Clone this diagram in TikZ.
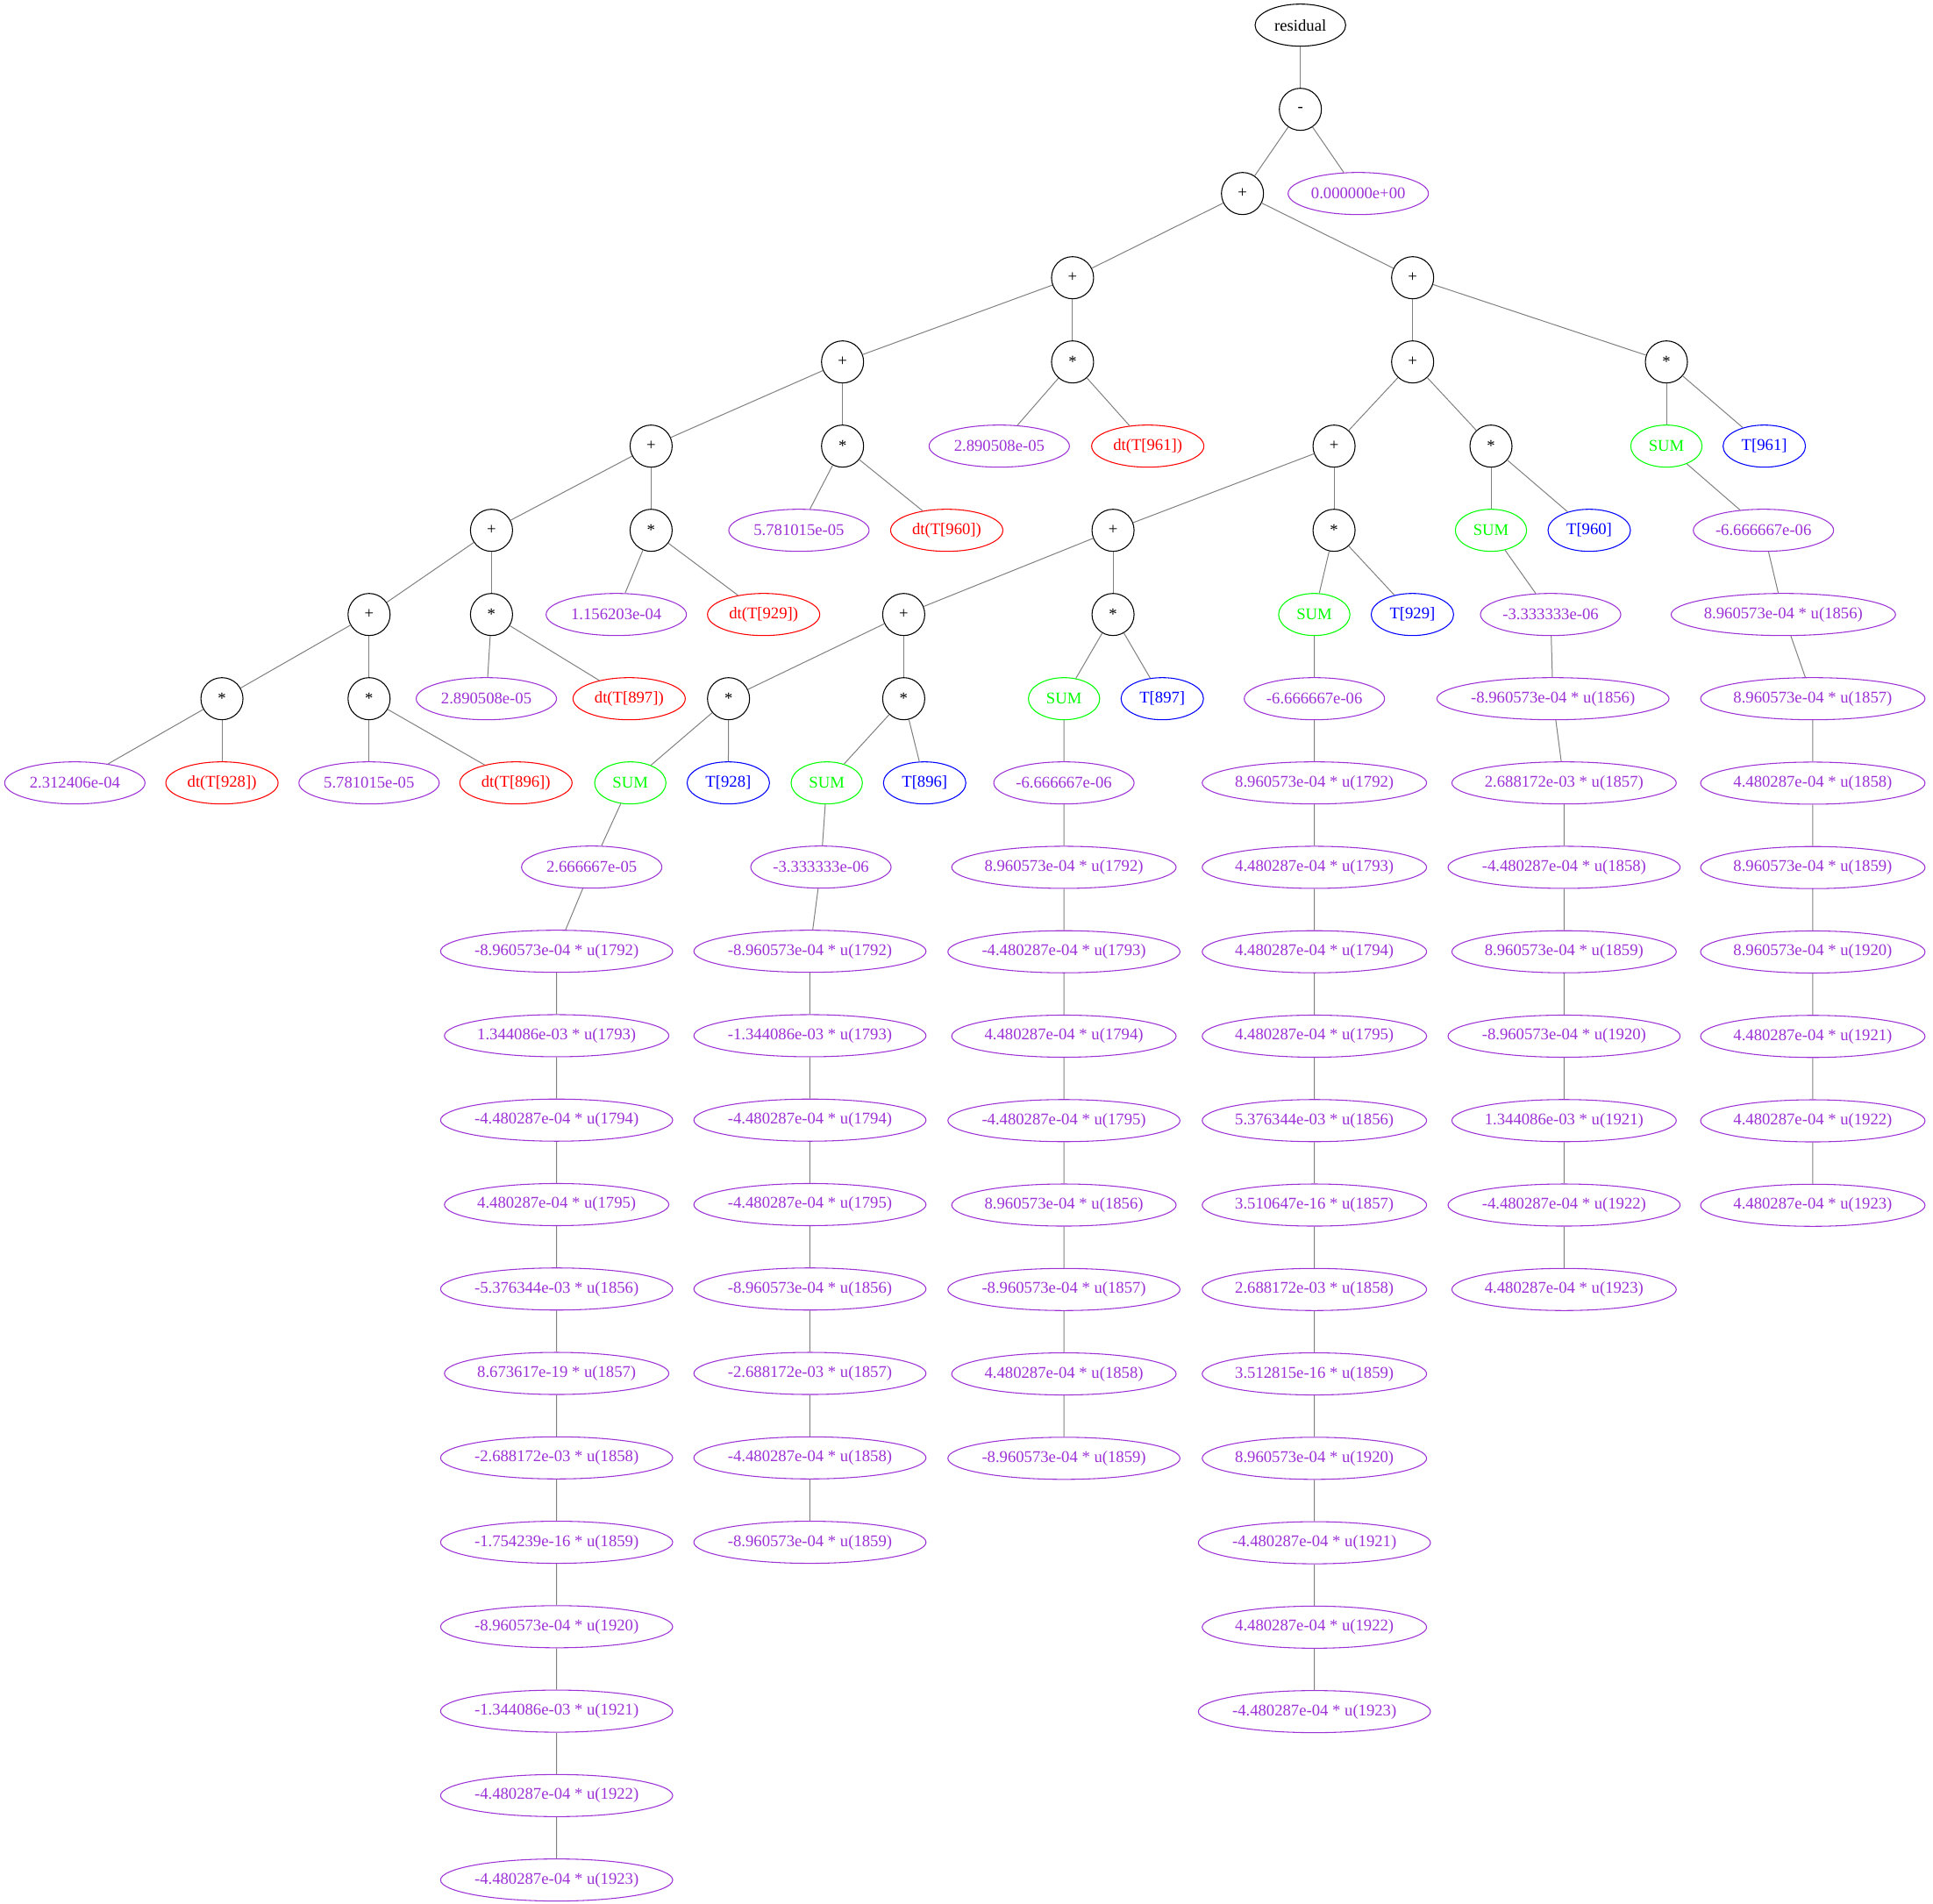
\documentclass[tikz,border=0pt]{standalone}
\usepackage{fontspec}
\setmainfont{Liberation Serif}
\usetikzlibrary{shapes.geometric,positioning}

\definecolor{cstpurple}{HTML}{9C32D6}
\definecolor{dtred}{HTML}{FF0000}
\definecolor{varblue}{HTML}{0000FF}
\definecolor{sumgreen}{HTML}{00FF00}

\begin{document}
\begin{tikzpicture}[x=1pt, y=1pt,
	node distance=35.4pt,
	every node/.style={font=\fontsize{14}{16}\selectfont, line width=0.8pt, minimum height=36pt},
	op/.style={circle, draw=black, minimum size=36pt, inner sep=0pt},
	rootv/.style={ellipse, draw=black, minimum width=77.5pt},
	cst/.style={ellipse, draw=cstpurple, text=cstpurple, minimum width=120pt, inner xsep=0pt},
	dtv/.style={ellipse, draw=dtred, text=dtred, minimum width=96pt},
	var/.style={ellipse, draw=varblue, text=varblue, minimum width=70.5pt},
	sumv/.style={ellipse, draw=sumgreen, text=sumgreen, minimum width=61pt},
	conn/.style={draw=gray, line width=0.75pt}
]
	\useasboundingbox (0,0) rectangle (1653,-1628);

	% Operators and leaves of the expression tree
	\node[rootv] (res) at (1112,-21.5) {residual};
	\node[op] (minus) at (1112,-93.5) {-};
	\node[op] (plA) at (1062.5,-165.5) {+};
	\node[cst] (zero) at (1161.5,-165.5) {0.000000e+00};

	\node[op] (plB) at (917.2,-237.5) {+};
	\node[op] (plC) at (1208,-237.5) {+};

	\node[op] (plD) at (720.5,-309.5) {+};
	\node[op] (mulA) at (917.2,-309.5) {*};
	\node[op] (plE) at (1208,-309.5) {+};
	\node[op] (mulB) at (1425,-309.5) {*};

	\node[op] (plF) at (556.8,-381.5) {+};
	\node[op] (mulC) at (720.5,-381.5) {*};
	\node[cst] (kA) at (854.5,-381.5) {2.890508e-05};
	\node[dtv] (dA) at (981.5,-381.5) {dt(T[961])};
	\node[op] (plG) at (1140.8,-381.5) {+};
	\node[op] (mulD) at (1275,-381.5) {*};
	\node[sumv] (sumB) at (1425,-381.5) {SUM};
	\node[var] (varB) at (1508.7,-381.5) {T[961]};

	\node[op] (plH) at (420.3,-453.5) {+};
	\node[op] (mulE) at (556.8,-453.5) {*};
	\node[cst] (kC) at (683.2,-453.5) {5.781015e-05};
	\node[dtv] (dC) at (809.6,-453.5) {dt(T[960])};
	\node[op] (plI) at (951.8,-453.5) {+};
	\node[op] (mulF) at (1140.8,-453.5) {*};
	\node[sumv] (sumD) at (1275,-453.5) {SUM};
	\node[var] (varD) at (1359,-453.5) {T[960]};
	\node[cst] (qB0) at (1508,-453.5) {-6.666667e-06};

	\node[op] (plJ) at (315.6,-525.5) {+};
	\node[op] (mulG) at (420.3,-525.5) {*};
	\node[cst] (kE) at (527,-525.5) {1.156203e-04};
	\node[dtv] (dE) at (653,-525.5) {dt(T[929])};
	\node[op] (plK) at (772.8,-525.5) {+};
	\node[op] (mulH) at (951.8,-525.5) {*};
	\node[sumv] (sumF) at (1123.9,-525.5) {SUM};
	\node[var] (varF) at (1207.8,-525.5) {T[929]};
	\node[cst] (qD0) at (1326,-525.5) {-3.333333e-06};
	\node[cst] (qB1) at (1525,-525.5) {8.960573e-04 * u(1856)};

	\node[op] (mulI) at (189.8,-597.5) {*};
	\node[op] (mulJ) at (315.6,-597.5) {*};
	\node[cst] (kG) at (415.9,-597.5) {2.890508e-05};
	\node[dtv] (dG) at (538,-597.5) {dt(T[897])};
	\node[op] (mulK) at (623,-597.5) {*};
	\node[op] (mulL) at (772.8,-597.5) {*};
	\node[sumv] (sumH) at (909.9,-597.5) {SUM};
	\node[var] (varH) at (993.9,-597.5) {T[897]};
	\node[cst] (qF0) at (1124,-597.5) {-6.666667e-06};
	\node[cst] (qD1) at (1328,-597.5) {-8.960573e-04 * u(1856)};
	\node[cst] (qB2) at (1550.2,-597.5) {8.960573e-04 * u(1857)};

	\node[cst] (kI) at (64,-669.5) {2.312406e-04};
	\node[dtv] (dI) at (189.8,-669.5) {dt(T[928])};
	\node[cst] (kJ) at (315.6,-669.5) {5.781015e-05};
	\node[dtv] (dJ) at (441.2,-669.5) {dt(T[896])};
	\node[sumv] (sumK) at (539,-669.5) {SUM};
	\node[var] (varK) at (622.8,-669.5) {T[928]};
	\node[sumv] (sumL) at (707,-669.5) {SUM};
	\node[var] (varL) at (790.7,-669.5) {T[896]};
	\node[cst] (qH0) at (909.8,-669.5) {-6.666667e-06};
	\node[cst] (qF1) at (1124,-669.5) {8.960573e-04 * u(1792)};
	\node[cst] (qD2) at (1337.5,-669.5) {2.688172e-03 * u(1857)};

	\node[cst] (qK0) at (506,-741.5) {2.666667e-05};
	\node[cst] (qL0) at (702,-741.5) {-3.333333e-06};

	% Chains of weighted terms
	\node[cst] (qK1) at (476,-813.5) {-8.960573e-04 * u(1792)};
	\node[cst, below=of qK1] (qK2) {1.344086e-03 * u(1793)};
	\node[cst, below=of qK2] (qK3) {-4.480287e-04 * u(1794)};
	\node[cst, below=of qK3] (qK4) {4.480287e-04 * u(1795)};
	\node[cst, below=of qK4] (qK5) {-5.376344e-03 * u(1856)};
	\node[cst, below=of qK5] (qK6) {8.673617e-19 * u(1857)};
	\node[cst, below=of qK6] (qK7) {-2.688172e-03 * u(1858)};
	\node[cst, below=of qK7] (qK8) {-1.754239e-16 * u(1859)};
	\node[cst, below=of qK8] (qK9) {-8.960573e-04 * u(1920)};
	\node[cst, below=of qK9] (qK10) {-1.344086e-03 * u(1921)};
	\node[cst, below=of qK10] (qK11) {-4.480287e-04 * u(1922)};
	\node[cst, below=of qK11] (qK12) {-4.480287e-04 * u(1923)};

	\node[cst] (qL1) at (692.6,-813.5) {-8.960573e-04 * u(1792)};
	\node[cst, below=of qL1] (qL2) {-1.344086e-03 * u(1793)};
	\node[cst, below=of qL2] (qL3) {-4.480287e-04 * u(1794)};
	\node[cst, below=of qL3] (qL4) {-4.480287e-04 * u(1795)};
	\node[cst, below=of qL4] (qL5) {-8.960573e-04 * u(1856)};
	\node[cst, below=of qL5] (qL6) {-2.688172e-03 * u(1857)};
	\node[cst, below=of qL6] (qL7) {-4.480287e-04 * u(1858)};
	\node[cst, below=of qL7] (qL8) {-8.960573e-04 * u(1859)};

	\node[cst, below=of qH0] (qH1) {8.960573e-04 * u(1792)};
	\node[cst, below=of qH1] (qH2) {-4.480287e-04 * u(1793)};
	\node[cst, below=of qH2] (qH3) {4.480287e-04 * u(1794)};
	\node[cst, below=of qH3] (qH4) {-4.480287e-04 * u(1795)};
	\node[cst, below=of qH4] (qH5) {8.960573e-04 * u(1856)};
	\node[cst, below=of qH5] (qH6) {-8.960573e-04 * u(1857)};
	\node[cst, below=of qH6] (qH7) {4.480287e-04 * u(1858)};
	\node[cst, below=of qH7] (qH8) {-8.960573e-04 * u(1859)};

	\node[cst, below=of qF1] (qF2) {4.480287e-04 * u(1793)};
	\node[cst, below=of qF2] (qF3) {4.480287e-04 * u(1794)};
	\node[cst, below=of qF3] (qF4) {4.480287e-04 * u(1795)};
	\node[cst, below=of qF4] (qF5) {5.376344e-03 * u(1856)};
	\node[cst, below=of qF5] (qF6) {3.510647e-16 * u(1857)};
	\node[cst, below=of qF6] (qF7) {2.688172e-03 * u(1858)};
	\node[cst, below=of qF7] (qF8) {3.512815e-16 * u(1859)};
	\node[cst, below=of qF8] (qF9) {8.960573e-04 * u(1920)};
	\node[cst, below=of qF9] (qF10) {-4.480287e-04 * u(1921)};
	\node[cst, below=of qF10] (qF11) {4.480287e-04 * u(1922)};
	\node[cst, below=of qF11] (qF12) {-4.480287e-04 * u(1923)};

	\node[cst, below=of qD2] (qD3) {-4.480287e-04 * u(1858)};
	\node[cst, below=of qD3] (qD4) {8.960573e-04 * u(1859)};
	\node[cst, below=of qD4] (qD5) {-8.960573e-04 * u(1920)};
	\node[cst, below=of qD5] (qD6) {1.344086e-03 * u(1921)};
	\node[cst, below=of qD6] (qD7) {-4.480287e-04 * u(1922)};
	\node[cst, below=of qD7] (qD8) {4.480287e-04 * u(1923)};

	\node[cst, below=of qB2] (qB3) {4.480287e-04 * u(1858)};
	\node[cst, below=of qB3] (qB4) {8.960573e-04 * u(1859)};
	\node[cst, below=of qB4] (qB5) {8.960573e-04 * u(1920)};
	\node[cst, below=of qB5] (qB6) {4.480287e-04 * u(1921)};
	\node[cst, below=of qB6] (qB7) {4.480287e-04 * u(1922)};
	\node[cst, below=of qB7] (qB8) {4.480287e-04 * u(1923)};

	% Tree edges
	\draw[conn] (res) -- (minus);
	\draw[conn] (minus) -- (plA);
	\draw[conn] (minus) -- (zero);
	\draw[conn] (plA) -- (plB);
	\draw[conn] (plA) -- (plC);
	\draw[conn] (plB) -- (plD);
	\draw[conn] (plB) -- (mulA);
	\draw[conn] (plC) -- (plE);
	\draw[conn] (plC) -- (mulB);
	\draw[conn] (plD) -- (plF);
	\draw[conn] (plD) -- (mulC);
	\draw[conn] (mulA) -- (kA);
	\draw[conn] (mulA) -- (dA);
	\draw[conn] (plE) -- (plG);
	\draw[conn] (plE) -- (mulD);
	\draw[conn] (mulB) -- (sumB);
	\draw[conn] (mulB) -- (varB);
	\draw[conn] (plF) -- (plH);
	\draw[conn] (plF) -- (mulE);
	\draw[conn] (mulC) -- (kC);
	\draw[conn] (mulC) -- (dC);
	\draw[conn] (plG) -- (plI);
	\draw[conn] (plG) -- (mulF);
	\draw[conn] (mulD) -- (sumD);
	\draw[conn] (mulD) -- (varD);
	\draw[conn] (plH) -- (plJ);
	\draw[conn] (plH) -- (mulG);
	\draw[conn] (mulE) -- (kE);
	\draw[conn] (mulE) -- (dE);
	\draw[conn] (plI) -- (plK);
	\draw[conn] (plI) -- (mulH);
	\draw[conn] (mulF) -- (sumF);
	\draw[conn] (mulF) -- (varF);
	\draw[conn] (plJ) -- (mulI);
	\draw[conn] (plJ) -- (mulJ);
	\draw[conn] (mulG) -- (kG);
	\draw[conn] (mulG) -- (dG);
	\draw[conn] (plK) -- (mulK);
	\draw[conn] (plK) -- (mulL);
	\draw[conn] (mulH) -- (sumH);
	\draw[conn] (mulH) -- (varH);
	\draw[conn] (mulI) -- (kI);
	\draw[conn] (mulI) -- (dI);
	\draw[conn] (mulJ) -- (kJ);
	\draw[conn] (mulJ) -- (dJ);
	\draw[conn] (mulK) -- (sumK);
	\draw[conn] (mulK) -- (varK);
	\draw[conn] (mulL) -- (sumL);
	\draw[conn] (mulL) -- (varL);

	% Chain edges
	\draw[conn] (sumK) -- (qK0) -- (qK1) -- (qK2) -- (qK3) -- (qK4) -- (qK5) -- (qK6)
		-- (qK7) -- (qK8) -- (qK9) -- (qK10) -- (qK11) -- (qK12);
	\draw[conn] (sumL) -- (qL0) -- (qL1) -- (qL2) -- (qL3) -- (qL4) -- (qL5) -- (qL6)
		-- (qL7) -- (qL8);
	\draw[conn] (sumH) -- (qH0) -- (qH1) -- (qH2) -- (qH3) -- (qH4) -- (qH5) -- (qH6)
		-- (qH7) -- (qH8);
	\draw[conn] (sumF) -- (qF0) -- (qF1) -- (qF2) -- (qF3) -- (qF4) -- (qF5) -- (qF6)
		-- (qF7) -- (qF8) -- (qF9) -- (qF10) -- (qF11) -- (qF12);
	\draw[conn] (sumD) -- (qD0) -- (qD1) -- (qD2) -- (qD3) -- (qD4) -- (qD5) -- (qD6)
		-- (qD7) -- (qD8);
	\draw[conn] (sumB) -- (qB0) -- (qB1) -- (qB2) -- (qB3) -- (qB4) -- (qB5) -- (qB6)
		-- (qB7) -- (qB8);

\end{tikzpicture}
\end{document}
